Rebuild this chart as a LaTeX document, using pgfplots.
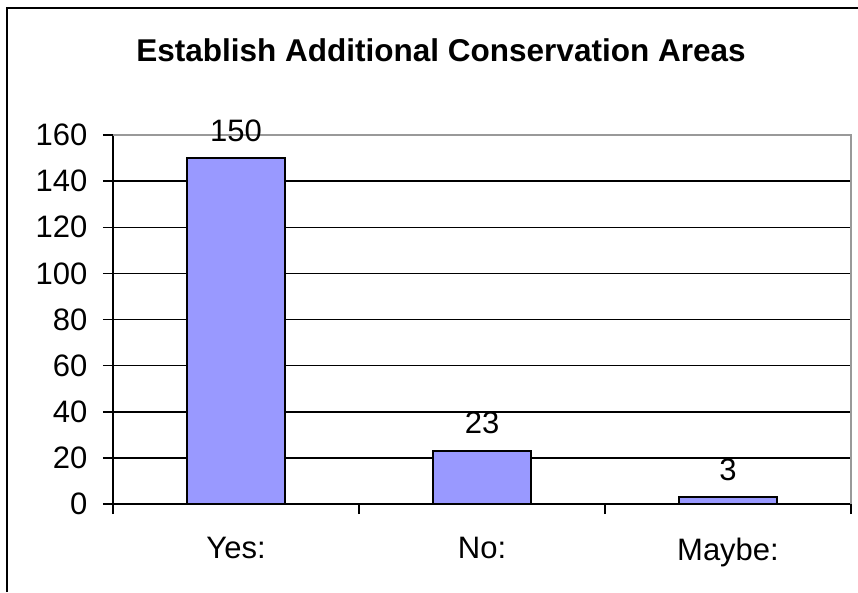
\documentclass[border=0pt]{standalone}
\usepackage{fontspec}
\setmainfont{Liberation Sans}
\usepackage{pgfplots}
\pgfplotsset{compat=1.18}
\definecolor{barblue}{HTML}{9999FF}
\begin{document}
\begin{tikzpicture}[x=1pt,y=1pt]
\path[use as bounding box] (0,0) rectangle (858,592);
\draw[line width=2pt] (7,0) -- (7,584) -- (859,584);
\node[font=\fontsize{31.5}{36}\selectfont\bfseries] at (441,542) {Establish Additional Conservation Areas};
\begin{axis}[
  at={(113pt,88pt)}, anchor=south west,
  scale only axis, width=738pt, height=369pt,
  xmin=-0.5, xmax=2.5, ymin=0, ymax=160,
  ytick={0,20,...,160},
  xtick={-0.5,0.5,1.5,2.5},
  xticklabels={Yes:,No:,Maybe:,{}},
  xticklabel style={xshift=123pt, yshift=-20pt},
  yticklabel style={xshift=-12pt},
  axis x line*=bottom, axis y line*=left,
  axis line style={line width=1.5pt, -},
  ymajorgrids, grid style={black, line width=1.5pt},
  tick align=outside, major tick length=10pt,
  tick style={black, line width=1.5pt},
  ticklabel style={font=\fontsize{31}{36}\selectfont},
  /pgf/number format/assume math mode=true,
  clip=false,
]
\addplot[ybar, bar width=98pt, fill=barblue, draw=black, line width=1.5pt,
  nodes near coords,
  every node near coord/.append style={font=\fontsize{31}{36}\selectfont, inner sep=0pt, yshift=16pt}]
  coordinates {(0,150) (1,23) (2,3)};
\draw[gray!80, line width=1.5pt] (rel axis cs:0,1) -- (rel axis cs:1,1) -- (rel axis cs:1,0);
\end{axis}
\end{tikzpicture}
\end{document}
